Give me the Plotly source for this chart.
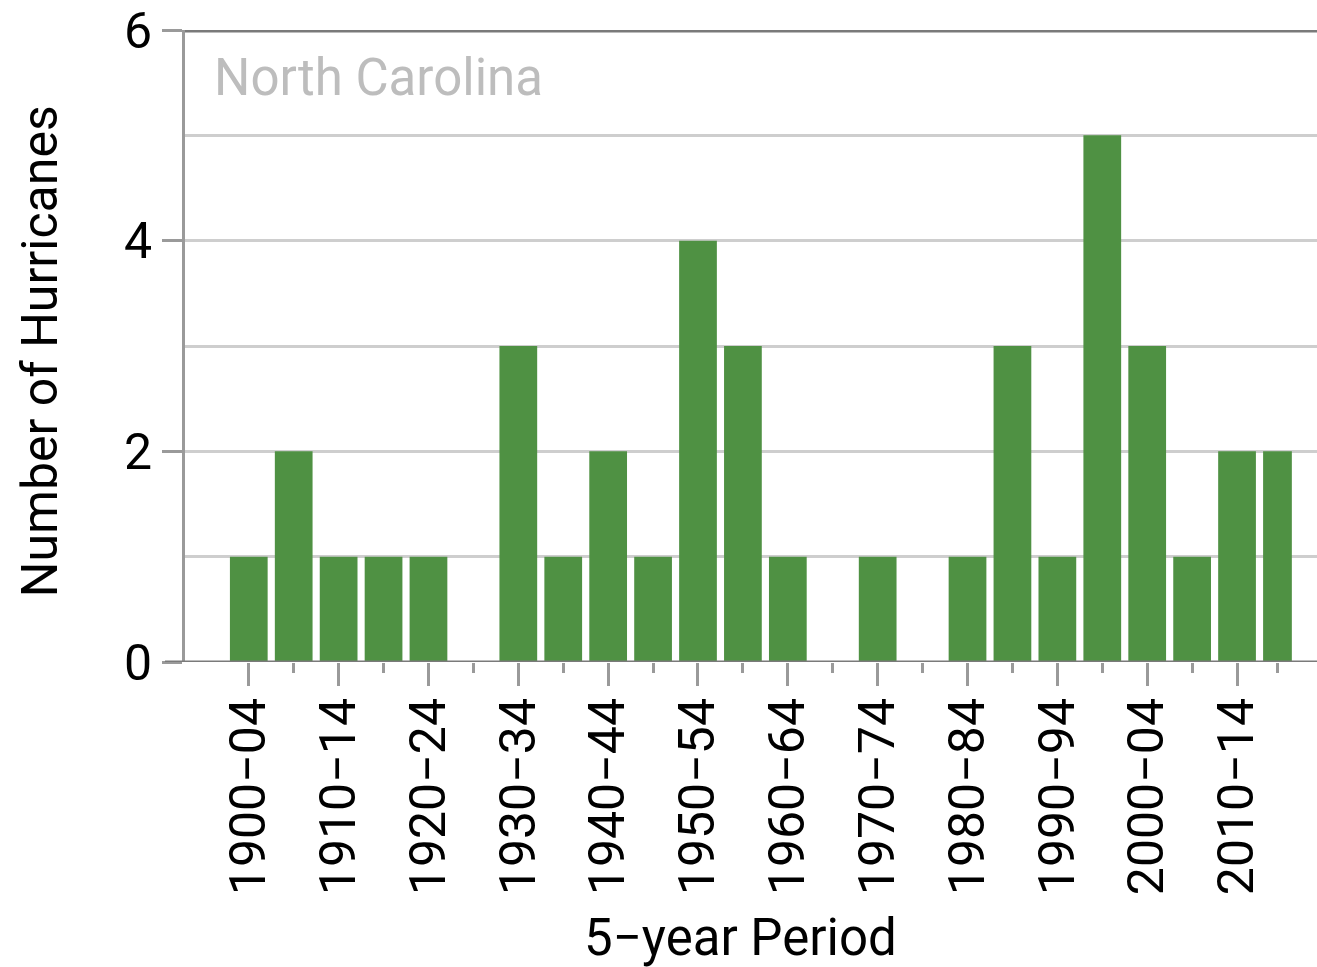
import plotly.graph_objects as go

# Landfalling hurricanes in North Carolina, counted per 5-year period
period_start = [1900, 1905, 1910, 1915, 1920, 1925, 1930, 1935, 1940, 1945, 1950, 1955,
                1960, 1965, 1970, 1975, 1980, 1985, 1990, 1995, 2000, 2005, 2010, 2015]
period_length = [5] * 23 + [4]
hurricanes = [1, 2, 1, 1, 1, 0, 3, 1, 2, 1, 4, 3,
              1, 0, 1, 0, 1, 3, 1, 5, 3, 1, 2, 2]

tick_labels = ["1900\u221204", "1910\u221214", "1920\u221224", "1930\u221234",
               "1940\u221244", "1950\u221254", "1960\u221264", "1970\u221274",
               "1980\u221284", "1990\u221294", "2000\u221204", "2010\u221214"]

centers = [s + n / 2 for s, n in zip(period_start, period_length)]
widths = [n - 0.8 for n in period_length]
major_vals = centers[::2]
minor_vals = centers[1::2]

FONT = "Roboto"
AXIS_GREY = "#9a9a9a"
DARK_GREY = "#7a7a7a"
GRID_GREY = "#cecece"

fig = go.Figure(
    go.Bar(
        x=centers,
        y=hurricanes,
        width=widths,
        marker=dict(color="#4f9143", line=dict(width=0)),
        hoverinfo="skip",
    )
)

fig.update_layout(
    width=1317,
    height=967,
    margin=dict(l=185, r=0, t=30, b=305),
    paper_bgcolor="white",
    plot_bgcolor="white",
    showlegend=False,
    font=dict(family=FONT, color="black", size=50),
)

fig.update_xaxes(
    range=[1895.4, 2021.4],
    tickmode="array",
    tickvals=major_vals,
    ticktext=tick_labels,
    tickangle=-90,
    ticks="outside",
    ticklen=23,
    tickwidth=3,
    tickcolor=AXIS_GREY,
    tickfont=dict(family=FONT, size=50, color="black"),
    ticklabelstandoff=-8,
    showgrid=False,
    zeroline=False,
    showline=False,
    minor=dict(tickmode="array", tickvals=minor_vals, ticks="outside",
               ticklen=10, tickwidth=3, tickcolor=AXIS_GREY, showgrid=False),
)

fig.update_yaxes(
    range=[0, 6],
    tickmode="array",
    tickvals=[0, 2, 4, 6],
    ticks="outside",
    ticklen=20,
    tickwidth=3,
    tickcolor=AXIS_GREY,
    tickfont=dict(family=FONT, size=50, color="black"),
    showgrid=True,
    gridcolor=GRID_GREY,
    gridwidth=3,
    zeroline=False,
    showline=True,
    linecolor=AXIS_GREY,
    linewidth=3,
    minor=dict(tickmode="array", tickvals=[1, 3, 5], ticks="",
               showgrid=True, gridcolor=GRID_GREY, gridwidth=3),
)

# Frame lines along the top and bottom of the plotting area
fig.add_shape(type="line", xref="paper", yref="y", x0=0, x1=1, y0=6, y1=6,
              line=dict(color=DARK_GREY, width=5), layer="above")
fig.add_shape(type="line", xref="paper", yref="y", x0=-0.0177, x1=1, y0=0, y1=0,
              line=dict(color=DARK_GREY, width=3), layer="above")

fig.add_annotation(text="North Carolina", xref="paper", yref="paper",
                   x=0.0235, y=0.9256, xanchor="left", yanchor="middle",
                   showarrow=False, font=dict(family=FONT, size=51, color="#bdbdbd"))
fig.add_annotation(text="Number of Hurricanes", xref="paper", yref="paper",
                   x=-0.128, y=0.492, xanchor="center", yanchor="middle",
                   textangle=-90, showarrow=False,
                   font=dict(family=FONT, size=50, color="black"))
fig.add_annotation(text="5\u2212year Period", xref="paper", yref="paper",
                   x=0.491, y=-0.436, xanchor="center", yanchor="middle",
                   showarrow=False, font=dict(family=FONT, size=51, color="black"))

fig.write_html("out.html")
